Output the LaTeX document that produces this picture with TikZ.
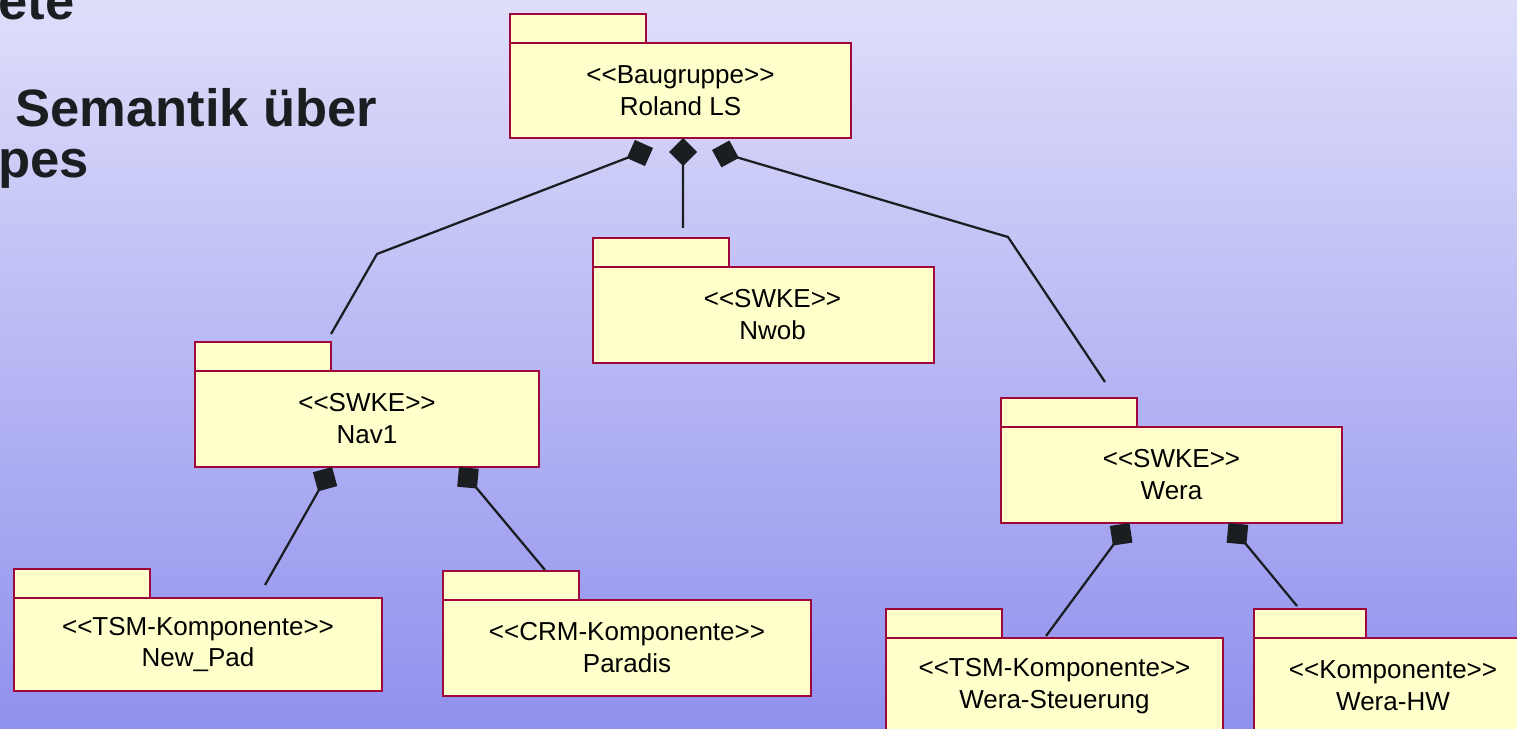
\documentclass[tikz,border=0pt]{standalone}
\usepackage{fontspec}
\setmainfont{Liberation Sans}[Ligatures=TeXOff]
\usetikzlibrary{positioning,calc,arrows.meta}
\definecolor{pkgred}{RGB}{160,6,60}
\definecolor{pkgfill}{RGB}{255,255,204}
\definecolor{linkgray}{RGB}{26,30,33}
\definecolor{bgtop}{RGB}{222,222,250}
\definecolor{bgbottom}{RGB}{144,144,238}
\tikzset{
        pkg/.style={draw=pkgred, fill=pkgfill, line width=0.55mm, outer sep=0pt, inner sep=0pt},
        % Package body (stereotype and name)
        pkg_body/.style={pkg, align=center, minimum height=19.2mm, font=\fontsize{14.8}{18.2}\selectfont},
        % Tab on top of a package
        pkg_tab/.style={pkg, minimum width=27.2mm, minimum height=5.8mm},
        % Composition links, diamond at the owner
        pkg_link/.style={draw=linkgray, line width=0.45mm, {Diamond[length=5.6mm,width=5.6mm]}-},
        % Slide title, cut at the left
        title_text/.style={inner sep=0pt, anchor=base west, text=linkgray, font=\fontsize{29.9}{36}\selectfont\bfseries}
}

\begin{document}
\begin{tikzpicture}[x=0.2mm, y=-0.2mm]
            \useasboundingbox (0,0) rectangle (1517,729);
            \clip (0,0) rectangle (1517,729);
            \shade[top color=bgtop, bottom color=bgbottom] (0,0) rectangle (1517,729);

            \node[title_text] (title_a) at (-2,20) {ete};
            \node[title_text] (title_b) at (15,127) {Semantik über};
            \node[title_text] (title_c) at (-2,178) {pes};

            % Packages
            \node[pkg_body, minimum width=68.2mm, minimum height=19mm] (roland) at (680.5,90.5) {<<Baugruppe>>\\Roland LS};
            \node[pkg_tab, above=0pt of roland.north west, anchor=south west] (roland_tab) {};
            \node[pkg_body, minimum width=68.2mm] (nwob) at (763.5,315) {\hspace*{3.6mm}<<SWKE>>\\\hspace*{3.6mm}Nwob};
            \node[pkg_tab, above=0pt of nwob.north west, anchor=south west] (nwob_tab) {};
            \node[pkg_body, minimum width=68.8mm] (nav1) at (367,419) {<<SWKE>>\\Nav1};
            \node[pkg_tab, above=0pt of nav1.north west, anchor=south west] (nav1_tab) {};
            \node[pkg_body, minimum width=68.2mm] (wera) at (1171.5,475) {<<SWKE>>\\Wera};
            \node[pkg_tab, above=0pt of wera.north west, anchor=south west] (wera_tab) {};
            \node[pkg_body, minimum width=73.6mm, minimum height=18.6mm] (newpad) at (198,644.5) {<<TSM-Komponente>>\\New\_Pad};
            \node[pkg_tab, above=0pt of newpad.north west, anchor=south west] (newpad_tab) {};
            \node[pkg_body, minimum width=73.6mm] (paradis) at (627,648) {<<CRM-Komponente>>\\Paradis};
            \node[pkg_tab, above=0pt of paradis.north west, anchor=south west] (paradis_tab) {};
            \node[pkg_body, minimum width=67.4mm] (werast) at (1054.5,686) {<<TSM-Komponente>>\\Wera-Steuerung};
            \node[pkg_tab, minimum width=23.2mm, above=0pt of werast.north west, anchor=south west] (werast_tab) {};
            \node[pkg_body, minimum width=55.6mm] (werahw) at (1393,686) {<<Komponente>>\\Wera-HW};
            \node[pkg_tab, minimum width=22.4mm, above=0pt of werahw.north west, anchor=south west] (werahw_tab) {};

            % Free ends of the links
            \coordinate (nav1_bend) at (377,254);
            \coordinate (nav1_end) at (331,334);
            \coordinate (nwob_end) at (683,228);
            \coordinate (wera_bend) at (1008,237);
            \coordinate (wera_end) at (1105,382);
            \coordinate (newpad_end) at (265,585);
            \coordinate (paradis_end) at (545,570);
            \coordinate (werast_end) at (1046,636);
            \coordinate (werahw_end) at (1297,606);

            % Links
            \draw[pkg_link] ($(roland.south)+(-27.5,10)$) -- (nav1_bend) -- (nav1_end);
            \draw[pkg_link] ($(roland.south)+(2.5,0)$) -- (nwob_end);
            \draw[pkg_link] ($(roland.south)+(31.5,12)$) -- (wera_bend) -- (wera_end);
            \draw[pkg_link] ($(nav1.south)+(-35,0)$) -- (newpad_end);
            \draw[pkg_link] ($(nav1.south)+(92,0)$) -- (paradis_end);
            \draw[pkg_link] ($(wera.south)+(-42,0)$) -- (werast_end);
            \draw[pkg_link] ($(wera.south)+(57,0)$) -- (werahw_end);
\end{tikzpicture}
\end{document}
